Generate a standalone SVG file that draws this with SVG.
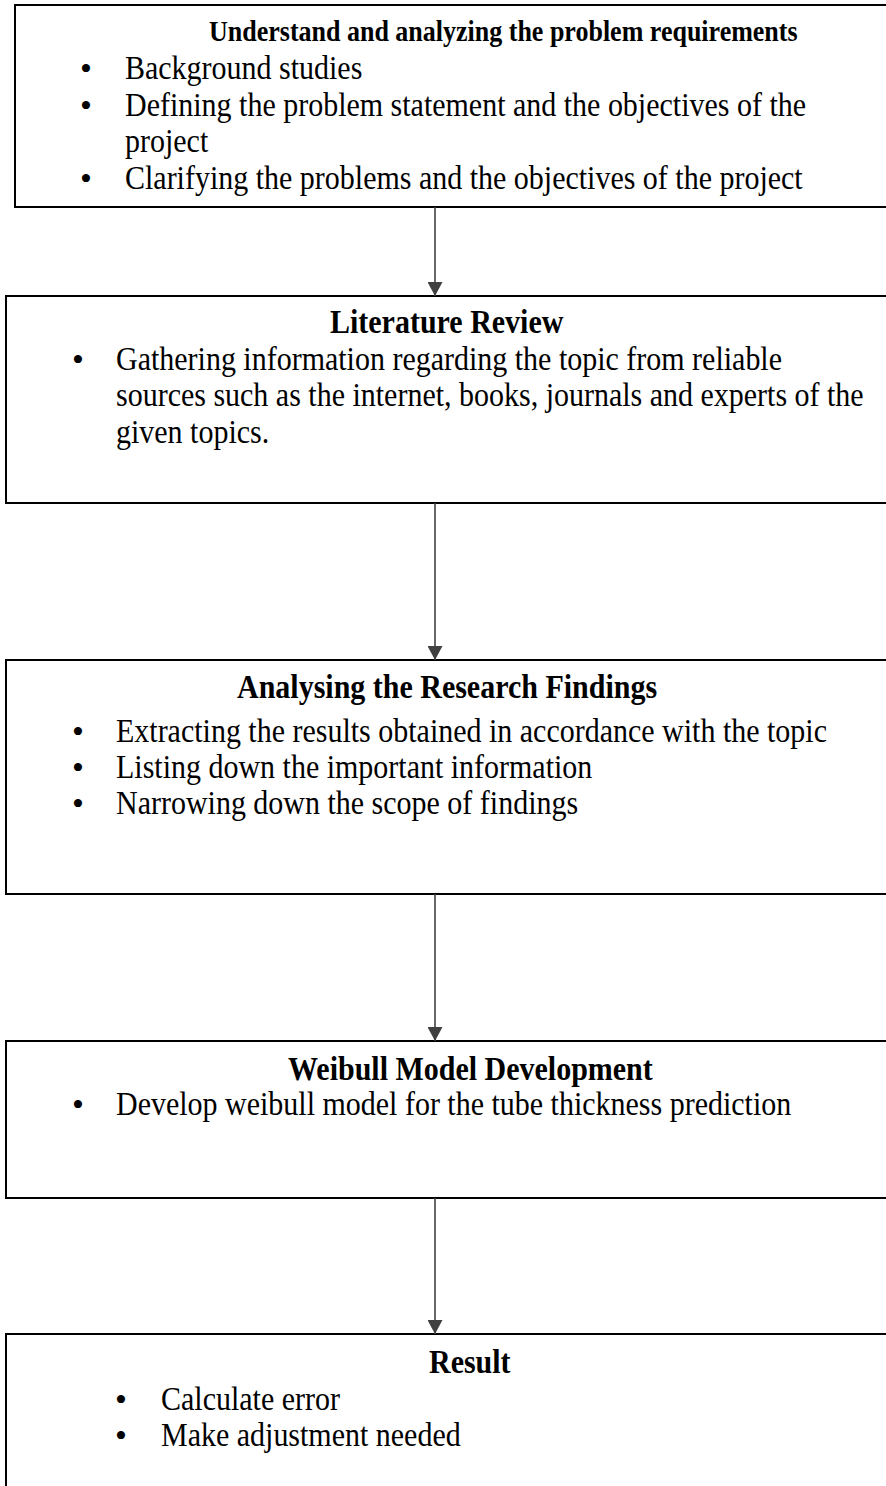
<svg xmlns="http://www.w3.org/2000/svg" width="886" height="1486" viewBox="0 0 886 1486">
<style>
.box{fill:#fff;stroke:#000;stroke-width:2}
.t{font-family:"Liberation Serif","Times New Roman",serif;font-size:30px;fill:#000}
.h{font-weight:bold}
.b{text-anchor:middle;font-size:34px}
.c{stroke:#404040;stroke-width:1.6;fill:none}
</style>
<defs>
<marker id="ah" markerUnits="userSpaceOnUse" viewBox="0 0 14 15" markerWidth="14" markerHeight="15" refX="14" refY="7.5" orient="auto">
<path d="M0,0 L14,7.5 L0,15 z" fill="#404040"/>
</marker>
</defs>
<rect width="886" height="1486" fill="#fff"/>
<g id="node1">
<rect class="box" x="15" y="5" width="900" height="202"/>
<text class="t h" x="209" y="41" transform="matrix(1,0,0,1.1,0,-4.1)" style="font-size:26px">Understand and analyzing the problem requirements</text>
<text class="t b" x="86" y="80">•</text>
<text class="t" x="125" y="79" transform="matrix(1,0,0,1.1,0,-7.9)">Background studies</text>
<text class="t b" x="86" y="117">•</text>
<text class="t" x="125" y="116" transform="matrix(1,0,0,1.1,0,-11.6)">Defining the problem statement and the objectives of the</text>
<text class="t" x="125" y="152" transform="matrix(1,0,0,1.1,0,-15.2)">project</text>
<text class="t b" x="86" y="190">•</text>
<text class="t" x="125" y="189" transform="matrix(1,0,0,1.1,0,-18.9)">Clarifying the problems and the objectives of the project</text>
</g>
<g id="node2">
<rect class="box" x="6" y="296" width="900" height="207"/>
<text class="t h" x="330" y="333" transform="matrix(1,0,0,1.1,0,-33.3)">Literature Review</text>
<text class="t b" x="78" y="371">•</text>
<text class="t" x="116" y="370" transform="matrix(1,0,0,1.1,0,-37)">Gathering information regarding the topic from reliable</text>
<text class="t" x="116" y="406" transform="matrix(1,0,0,1.1,0,-40.6)">sources such as the internet, books, journals and experts of the</text>
<text class="t" x="116" y="443" transform="matrix(1,0,0,1.1,0,-44.3)">given topics.</text>
</g>
<g id="node3">
<rect class="box" x="6" y="660" width="900" height="234"/>
<text class="t h" x="237" y="698" transform="matrix(1,0,0,1.1,0,-69.8)">Analysing the Research Findings</text>
<text class="t b" x="78" y="743">•</text>
<text class="t" x="116" y="742" transform="matrix(1,0,0,1.1,0,-74.2)">Extracting the results obtained in accordance with the topic</text>
<text class="t b" x="78" y="779">•</text>
<text class="t" x="116" y="778" transform="matrix(1,0,0,1.1,0,-77.8)">Listing down the important information</text>
<text class="t b" x="78" y="815">•</text>
<text class="t" x="116" y="814" transform="matrix(1,0,0,1.1,0,-81.4)">Narrowing down the scope of findings</text>
</g>
<g id="node4">
<rect class="box" x="6" y="1041" width="900" height="157"/>
<text class="t h" x="288" y="1080" transform="matrix(1,0,0,1.1,0,-108)">Weibull Model Development</text>
<text class="t b" x="78" y="1116">•</text>
<text class="t" x="116" y="1115" transform="matrix(1,0,0,1.1,0,-111.5)">Develop weibull model for the tube thickness prediction</text>
</g>
<g id="node5">
<rect class="box" x="6" y="1334" width="900" height="200"/>
<text class="t h" x="429" y="1373" transform="matrix(1,0,0,1.1,0,-137.3)">Result</text>
<text class="t b" x="121" y="1411">•</text>
<text class="t" x="161" y="1410" transform="matrix(1,0,0,1.1,0,-141)">Calculate error</text>
<text class="t b" x="121" y="1447">•</text>
<text class="t" x="161" y="1446" transform="matrix(1,0,0,1.1,0,-144.6)">Make adjustment needed</text>
</g>
<g id="connectors">
<line class="c" x1="435" y1="207" x2="435" y2="296" marker-end="url(#ah)"/>
<line class="c" x1="435" y1="503" x2="435" y2="660" marker-end="url(#ah)"/>
<line class="c" x1="435" y1="894" x2="435" y2="1041" marker-end="url(#ah)"/>
<line class="c" x1="435" y1="1198" x2="435" y2="1334" marker-end="url(#ah)"/>
</g>
</svg>
